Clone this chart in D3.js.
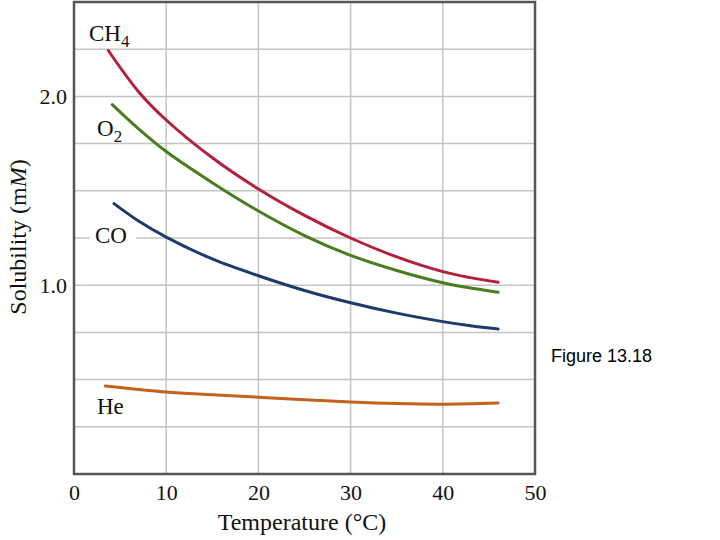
<!DOCTYPE html>
<html><head><meta charset="utf-8">
<script src="https://cdn.jsdelivr.net/npm/d3@7"></script>
<style>body{margin:0;background:#fff}svg{display:block}</style>
</head><body>
<svg id="c" width="720" height="540"></svg>
<script>
const temps_CH4 = [3.72, 7, 10, 15, 20, 25, 30, 35, 40, 43, 46];
const sol_CH4   = [2.243, 2.025, 1.875, 1.675, 1.51, 1.37, 1.25, 1.15, 1.072, 1.04, 1.016];
const temps_O2  = [4.15, 7, 10, 15, 20, 25, 30, 35, 40, 43, 46];
const sol_O2    = [1.956, 1.828, 1.708, 1.543, 1.393, 1.263, 1.158, 1.078, 1.013, 0.985, 0.963];
const temps_CO  = [4.34, 7, 10, 15, 20, 25, 30, 35, 40, 43, 46];
const sol_CO    = [1.432, 1.34, 1.255, 1.139, 1.05, 0.972, 0.907, 0.852, 0.807, 0.785, 0.768];
const temps_He  = [3.4, 10, 15, 20, 25, 30, 35, 40, 46];
const sol_He    = [0.466, 0.434, 0.42, 0.407, 0.393, 0.381, 0.373, 0.370, 0.376];
const xTicks = [0, 10, 20, 30, 40, 50];
const yGrid = [0.25, 0.5, 0.75, 1.0, 1.25, 1.5, 1.75, 2.0, 2.25];
const yLabels = [1.0, 2.0];

const series = [
  {name:"CH4", t:temps_CH4, v:sol_CH4, color:"#b31f3c"},
  {name:"O2",  t:temps_O2,  v:sol_O2,  color:"#4b7d1f"},
  {name:"CO",  t:temps_CO,  v:sol_CO,  color:"#1d3a6d"},
  {name:"He",  t:temps_He,  v:sol_He,  color:"#c2631d"}
];

const svg = d3.select("#c");
const L = 74, R = 535, T = 2, B = 474;
const x = d3.scaleLinear().domain([0, 50]).range([L, R]);
const y = d3.scaleLinear().domain([0, 2.5]).range([B, T]);
const serif = "'Liberation Serif', 'DejaVu Serif', serif";

// grid
svg.append("g").selectAll("line").data(xTicks.slice(1, -1)).join("line")
  .attr("x1", d => x(d)).attr("x2", d => x(d)).attr("y1", T).attr("y2", B)
  .attr("stroke", "#c4c4c4").attr("stroke-width", 1.5);
svg.append("g").selectAll("line").data(yGrid).join("line")
  .attr("x1", L).attr("x2", R).attr("y1", d => y(d)).attr("y2", d => y(d))
  .attr("stroke", "#c4c4c4").attr("stroke-width", 1.5);

// series
const line = d3.line().x(d => x(d[0])).y(d => y(d[1])).curve(d3.curveCatmullRom);
series.forEach(s => {
  svg.append("path").datum(s.t.map((t, i) => [t, s.v[i]]))
    .attr("d", line).attr("fill", "none").attr("stroke", s.color)
    .attr("stroke-width", 3).attr("stroke-linecap", "round");
});

// frame
svg.append("rect").attr("x", L).attr("y", T).attr("width", R - L).attr("height", B - T)
  .attr("fill", "none").attr("stroke", "#555").attr("stroke-width", 2.5);

// axes labels
const xAxis = d3.axisBottom(x).tickValues(xTicks).tickSize(0).tickFormat(d3.format("d"));
const gx = svg.append("g").attr("transform", `translate(0,${B})`).call(xAxis);
gx.select(".domain").remove();
gx.selectAll("text").attr("font-family", serif).attr("font-size", 22).attr("fill", "#111").attr("dy", "1.05em");

const yAxis = d3.axisLeft(y).tickValues(yLabels).tickSize(0).tickFormat(d3.format(".1f"));
const gy = svg.append("g").attr("transform", `translate(${L},0)`).call(yAxis);
gy.select(".domain").remove();
gy.selectAll("text").attr("font-family", serif).attr("font-size", 22).attr("fill", "#111").attr("x", -7);

// series labels
function label(xp, yp, main, sub) {
  const t = svg.append("text").attr("x", xp).attr("y", yp)
    .attr("font-family", serif).attr("font-size", 23).attr("fill", "#111");
  t.append("tspan").text(main);
  if (sub) t.append("tspan").attr("dy", 6).attr("font-size", 17).text(sub);
  return t;
}
svg.append("rect").attr("x", 90).attr("y", 222).attr("width", 46).attr("height", 26).attr("fill", "#fff");
label(89, 41, "CH", "4");
label(97, 136, "O", "2");
label(95, 243, "CO");
label(97, 414, "He");

// axis titles
svg.append("text").attr("x", 302).attr("y", 530).attr("text-anchor", "middle")
  .attr("font-family", serif).attr("font-size", 24).attr("fill", "#111")
  .text("Temperature (°C)");
const yt = svg.append("text").attr("transform", "translate(26,237) rotate(-90)")
  .attr("text-anchor", "middle").attr("font-family", serif).attr("font-size", 24).attr("fill", "#111");
yt.append("tspan").text("Solubility (m");
yt.append("tspan").attr("font-style", "italic").text("M");
yt.append("tspan").text(")");

svg.append("text").attr("x", 551).attr("y", 362)
  .attr("font-family", "'Liberation Sans', Arial, sans-serif").attr("font-size", 18).attr("fill", "#000")
  .text("Figure 13.18");
</script>
</body></html>
